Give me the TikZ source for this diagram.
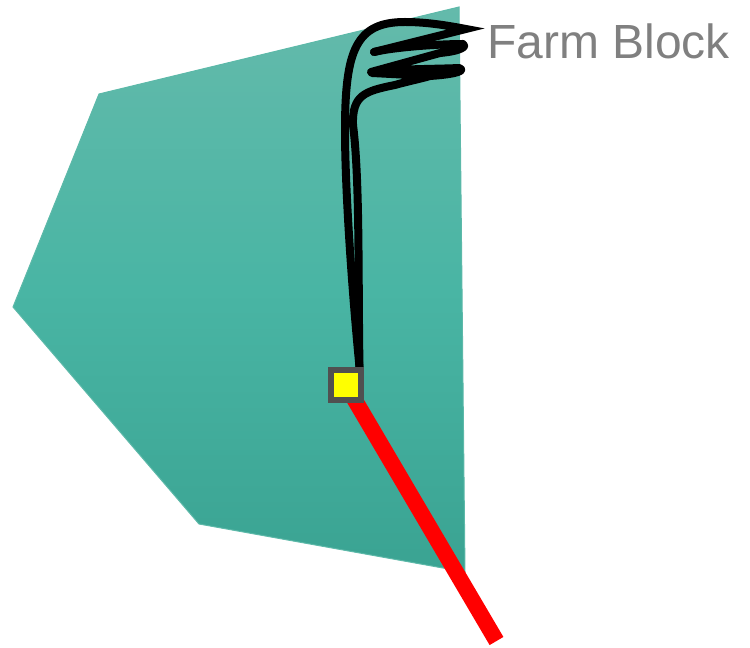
\documentclass[tikz,border=0pt]{standalone}
\usepackage{fontspec}
\setmainfont{Liberation Sans}
\usepackage{xcolor}
\usepackage{tikz}
\usetikzlibrary{backgrounds,positioning,calc}
\definecolor{farmtop}{HTML}{64BAAB}
\definecolor{farmmid}{HTML}{49B5A4}
\definecolor{farmbot}{HTML}{3AA392}
\definecolor{farmedge}{HTML}{5DB9A9}
\definecolor{boxgray}{HTML}{505050}
\definecolor{boxyellow}{HTML}{FFFF00}
\definecolor{roadred}{HTML}{FF0000}
\tikzset{
  farmblock/.style={top color=farmtop,bottom color=farmbot,middle color=farmmid,draw=farmedge,line width=0.02cm},
  farmlabel/.style={text=gray,font=\fontsize{27.3}{27.3}\selectfont,inner sep=0pt,anchor=west},
  farmbox/.style={draw=boxgray,fill=boxyellow,line width=0.12cm,minimum size=0.6cm,inner sep=0pt},
  farmroad/.style={draw=roadred,line width=0.32cm},
  farmleader/.style={draw=black,line width=0.16cm,line cap=round}
}
\begin{document}
\begin{tikzpicture}[x=0.02cm,y=-0.02cm]
\useasboundingbox (0,0) rectangle (750,648);
\coordinate (roadend) at (496.5,641);
\coordinate (leaderstart) at (359.5,367);
\coordinate (leadertip) at (466,29);
\coordinate (turnone) at (374,52);
\node[farmbox] (well) at (346,385) {};
\node[farmlabel] (label) at (487,41) {Farm Block};
\begin{scope}[on background layer]
\shade[farmblock] (459,7)--(99,94)--(13,307)--(199,524)--(465,572)--cycle;
\draw[farmroad] (well.center)--(roadend);
\draw[farmleader,line join=miter,miter limit=8] (leaderstart)
  .. controls (352,290) and (345,190) .. (345,130)
  .. controls (345,50) and (356,22) .. (405,22)
  .. controls (425,22) and (445,25) .. (leadertip)--(turnone);
\draw[farmleader,line join=round] (turnone)
  .. controls (395,47) and (440,44) .. (463,44)
  .. controls (467,46) and (462,51) .. (440,53)
  -- (371,72)
  .. controls (390,69) and (440,69) .. (459,68)
  .. controls (465,70) and (460,74) .. (430,76)
  -- (372,73)
  -- (430,76)
  .. controls (420,79) and (405,82) .. (395,85)
  .. controls (365,91) and (352,95) .. (353,125)
  .. controls (360,180) and (358,280) .. (leaderstart);
\end{scope}
\end{tikzpicture}
\end{document}
